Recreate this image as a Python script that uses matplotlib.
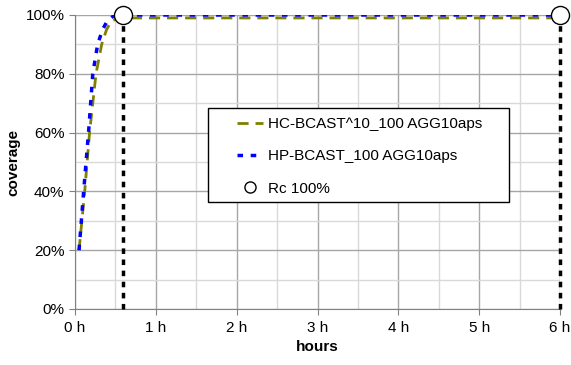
import matplotlib
matplotlib.use('Agg')
import matplotlib.pyplot as plt
from matplotlib.patches import Rectangle
from matplotlib.ticker import MultipleLocator, FuncFormatter

plt.rcParams['font.family'] = ['Liberation Sans', 'DejaVu Sans']

# curvas (horas, % cobertura)
hc_t = [0.05, 0.12, 0.18, 0.26, 0.33, 0.39, 0.45, 0.55, 6.0]
hc_y = [20, 40, 60, 80, 90, 95, 98, 99, 99]
hp_t = [0.05, 0.11, 0.17, 0.22, 0.28, 0.34, 0.40, 0.49, 6.0]
hp_y = [20, 41, 61, 80, 90, 95, 98, 100, 100]
rc_t = [0.59, 6.0]
rc_y = [100, 100]

hc_label = 'HC-BCAST^10_100 AGG10aps'
hp_label = 'HP-BCAST_100 AGG10aps'
rc_label = 'Rc 100%'

fig = plt.figure(figsize=(5.71, 3.65), dpi=100)
ax = fig.add_axes([75/571, 1-309/365, 485/571, 294/365])

ax.set_xlim(0, 6)
ax.set_ylim(0, 100)
ax.xaxis.set_major_locator(MultipleLocator(1))
ax.xaxis.set_minor_locator(MultipleLocator(0.5))
ax.yaxis.set_major_locator(MultipleLocator(20))
ax.yaxis.set_minor_locator(MultipleLocator(10))
ax.xaxis.set_major_formatter(FuncFormatter(lambda v, p: f'{int(v)} h'))
ax.yaxis.set_major_formatter(FuncFormatter(lambda v, p: f'{int(v)}%'))

ax.grid(True, which='major', color='#a6a6a6', linewidth=1.0)
ax.grid(True, which='minor', color='#d9d9d9', linewidth=1.0)
ax.set_axisbelow(True)

for s in ['top', 'right']:
    ax.spines[s].set_visible(False)
for s in ['left', 'bottom']:
    ax.spines[s].set_color('#808080')
ax.tick_params(which='major', direction='out', length=4, color='#808080',
               labelsize=11, labelcolor='black')
ax.tick_params(which='minor', length=0)
ax.tick_params(axis='x', pad=5)

ax.plot(hc_t, hc_y, color='#808000', linewidth=2, dashes=(4, 2.5), label=hc_label)
ax.plot(hp_t, hp_y, color='#0000ff', linewidth=2.5, dashes=(1.6, 2.2), label=hp_label)

for t, y in zip(rc_t, rc_y):
    ax.plot([t, t], [0, y], color='black', linewidth=2.5, dashes=(1.6, 1.6),
            clip_on=False, zorder=3)
ax.plot(rc_t, rc_y, linestyle='none', marker='o', markersize=13,
        markerfacecolor='white', markeredgecolor='black', markeredgewidth=1,
        clip_on=False, zorder=5, label=rc_label)

ax.set_xlabel('hours', fontsize=11, fontweight='bold', labelpad=3)
ax.set_ylabel('coverage', fontsize=11, fontweight='bold', labelpad=4)

# marco de la leyenda
ax.add_patch(Rectangle((208/571, 1-202/365), 301/571, 94/365,
                       transform=fig.transFigure, facecolor='white',
                       edgecolor='black', linewidth=1, zorder=4.5, clip_on=False))

leg = ax.legend(loc='upper left', bbox_to_anchor=(237/571, 1-117/365),
                bbox_transform=fig.transFigure, borderaxespad=0, borderpad=0,
                fontsize=11, frameon=False, labelspacing=1.2,
                handlelength=1.7, handletextpad=0.3)
leg.set_zorder(6)
for h in leg.legend_handles[2:]:
    h.set_markersize(8)

plt.savefig('out.png', dpi=100)
plt.close()
